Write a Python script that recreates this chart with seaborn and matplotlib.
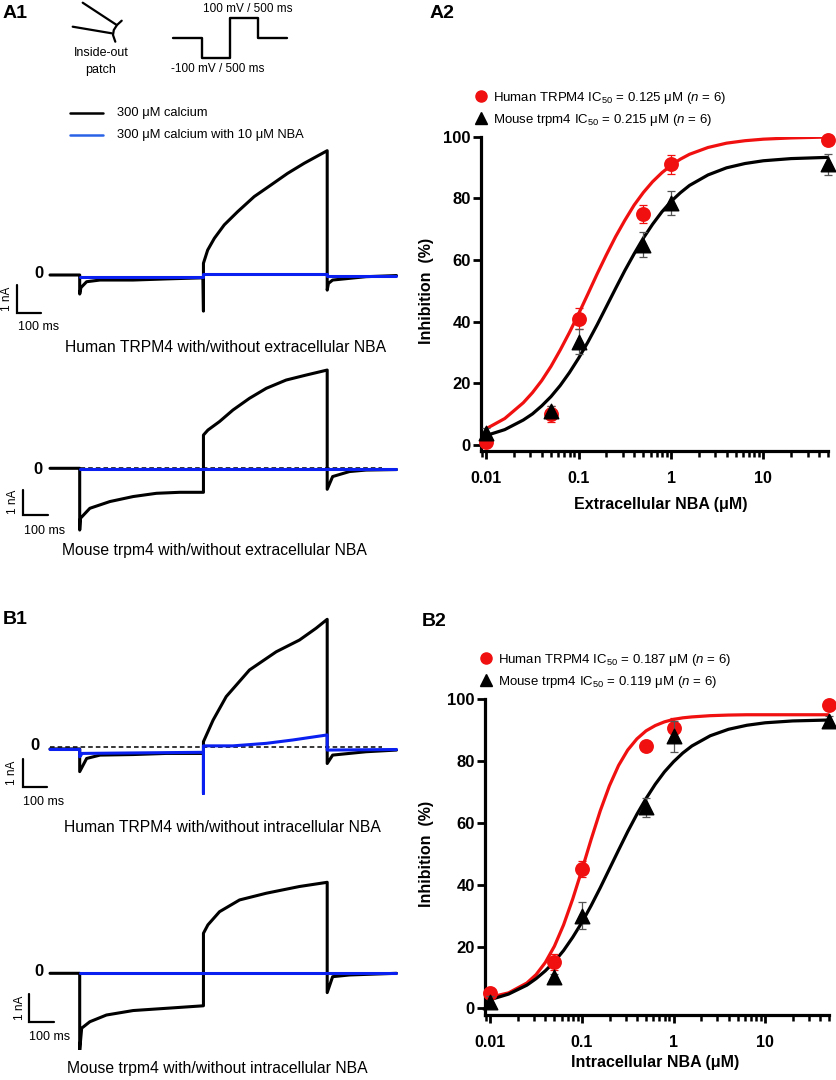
import numpy as np
import matplotlib
matplotlib.use("Agg")
import matplotlib.pyplot as plt
import seaborn as sns
from matplotlib.lines import Line2D
from matplotlib.ticker import LogLocator, NullFormatter

sns.set_style("white")
plt.rcParams['font.family'] = ['Liberation Sans', 'DejaVu Sans']
plt.rcParams['mathtext.fontset'] = 'custom'
plt.rcParams['mathtext.rm'] = 'Liberation Sans'
plt.rcParams['mathtext.it'] = 'Liberation Sans:italic'
plt.rcParams['mathtext.bf'] = 'Liberation Sans:bold'
for key in ['text.color', 'axes.labelcolor', 'xtick.color', 'ytick.color', 'axes.edgecolor']:
    plt.rcParams[key] = 'black'

RED = '#f01010'
BLUE = '#0a20f0'
GREY = '#555555'

# ---------------- dose-response data (mean +/- SEM) -------------
conc = [0.01, 0.05, 0.1, 0.5, 1, 50]

ext_human = [1, 10, 41, 75, 91, 99]
ext_human_err = [1, 2.5, 3.5, 3, 3, 1]
ext_mouse = [4, 11, 33.5, 65, 78.5, 91]
ext_mouse_err = [1.5, 1.5, 4, 4, 4, 3.5]

int_human = [5, 15, 45, 85, 90.6, 98]
int_human_err = [1, 2.7, 2.6, 1, 3.5, 1]
int_mouse = [2, 10, 30, 65, 88, 93]
int_mouse_err = [2, 1, 4.3, 3, 5, 1.5]

# fitted curves, sampled along the drawn lines (log10 of concentration)
fit_logx = [-2.0, -1.8, -1.6, -1.5, -1.4, -1.3, -1.2, -1.1, -1.0, -0.9, -0.8, -0.7,
            -0.6, -0.5, -0.4, -0.3, -0.2, -0.1, 0.0, 0.1, 0.2, 0.4, 0.6, 0.8, 1.0, 1.3, 1.7]
ext_human_fit = [5.3, 8.6, 13.7, 17.0, 20.9, 25.5, 30.8, 36.5, 42.6, 49.0, 55.5, 61.7, 67.6,
                 72.9, 77.8, 81.9, 85.4, 88.3, 90.7, 92.7, 94.3, 96.5, 97.9, 98.7, 99.2, 99.6, 99.9]
ext_mouse_fit = [3.1, 5.0, 8.1, 10.1, 12.7, 15.7, 19.3, 23.5, 28.2, 33.4, 39.0, 44.9, 50.8,
                 56.6, 62.0, 67.1, 71.6, 75.6, 79.0, 81.8, 84.2, 87.6, 89.9, 91.3, 92.2, 92.9, 93.3]
int_human_fit = [3.6, 5.0, 8.2, 10.9, 14.8, 20.1, 27.0, 35.4, 44.8, 54.6, 63.9, 72.0, 78.6,
                 83.6, 87.2, 89.8, 91.5, 92.7, 93.5, 94.0, 94.3, 94.7, 94.9, 95.0, 95.0, 95.0, 95.0]
int_mouse_fit = [2.8, 4.6, 7.5, 9.6, 12.1, 15.1, 18.7, 23.0, 27.8, 33.2, 39.0, 45.1, 51.2,
                 57.2, 62.8, 67.9, 72.5, 76.5, 79.8, 82.6, 84.9, 88.2, 90.3, 91.6, 92.4, 93.0, 93.3]

# ---------------- current traces (ms, nA) ----------------
# human TRPM4, extracellular NBA
a1h_t = [0, 120, 120, 125, 148, 202, 336, 470, 618, 620, 620, 637, 664, 704, 758, 825, 892, 960,
         1027, 1120, 1120, 1125, 1142, 1277, 1400]
a1h_i = [0, 0, -0.68, -0.45, -0.24, -0.18, -0.18, -0.14, -0.10, -1.29, 0.42, 0.89, 1.31, 1.79,
         2.26, 2.80, 3.21, 3.63, 3.99, 4.44, -0.54, -0.30, -0.18, -0.06, -0.02]
a1h_nba_t = [120, 620, 620, 1120, 1120, 1400]
a1h_nba_i = [-0.06, -0.06, 0.04, 0.04, -0.02, -0.02]

# mouse trpm4, extracellular NBA
a1m_t = [0, 120, 120, 123, 161, 242, 336, 430, 524, 620, 620, 638, 685, 739, 806, 874, 954, 1035,
         1120, 1120, 1142, 1210, 1277, 1400]
a1m_i = [0, 0, -2.47, -2.0, -1.6, -1.33, -1.13, -1.0, -0.96, -0.96, 1.33, 1.53, 1.87, 2.33, 2.8,
         3.2, 3.53, 3.73, 3.93, -0.84, -0.33, -0.13, -0.07, -0.05]
a1m_nba_t = [120, 1400]
a1m_nba_i = [-0.03, -0.03]

# human TRPM4, intracellular NBA
b1h_t = [0, 120, 120, 148, 202, 336, 470, 620, 620, 659, 712, 806, 914, 1008, 1075, 1120, 1120,
         1142, 1277, 1400]
b1h_i = [-0.08, -0.08, -0.89, -0.42, -0.3, -0.28, -0.24, -0.24, 0.18, 0.95, 1.79, 2.74, 3.39,
         3.81, 4.23, 4.55, -0.6, -0.3, -0.18, -0.12]
b1h_nba_t = [0, 120, 120, 130, 620, 620, 620, 739, 874, 981, 1120, 1120, 1400]
b1h_nba_i = [-0.1, -0.1, -0.36, -0.24, -0.2, -1.67, 0.03, 0.03, 0.12, 0.24, 0.42, -0.12, -0.1]

# mouse trpm4, intracellular NBA
b1m_t = [0, 120, 120, 128, 161, 228, 336, 470, 620, 620, 638, 685, 766, 874, 1008, 1120, 1120,
         1142, 1210, 1400]
b1m_i = [0, 0, -2.74, -1.96, -1.73, -1.49, -1.33, -1.25, -1.16, 1.43, 1.73, 2.2, 2.62, 2.86, 3.1,
         3.25, -0.69, -0.12, -0.06, 0]
b1m_nba_t = [120, 1400]
b1m_nba_i = [0, 0]

# voltage protocol
prot_t = [0, 500, 500, 1000, 1000, 1500, 1500, 2000]
prot_v = [0, 0, -100, -100, 100, 100, 0, 0]

W, H = 837, 1080
fig = plt.figure(figsize=(W / 100, H / 100), dpi=100)


def px_axes(left, top, right, bottom):
    return fig.add_axes([left / W, 1 - bottom / H, (right - left) / W, (bottom - top) / H])


ov = px_axes(0, 0, W, H)
ov.set_xlim(0, W)
ov.set_ylim(H, 0)
ov.axis('off')

# ---------------- traces ----------------
MS_PX = 0.2475  # px per ms


def trace_panel(top, bottom, y0, s, traces, bar, dashed=False):
    ax = px_axes(0, top, 420, bottom)
    ax.set_xlim(-50 / MS_PX, 370 / MS_PX)
    ax.set_ylim((y0 - bottom) / s, (y0 - top) / s)
    ax.axis('off')
    if dashed:
        ax.plot([0, 1343], [0, 0], color='black', lw=1.1, ls=(0, (3, 2)), zorder=1)
    for t, i, c in traces:
        sns.lineplot(x=t, y=i, ax=ax, color=c, lw=2.2, sort=False, estimator=None, zorder=3)
    bx, by = bar
    ax.plot([bx, bx, bx + 100], [by + 1, by, by], color='black', lw=1.6, solid_joinstyle='miter')
    return ax


trace_panel(140, 335, 275, 28, [(a1h_t, a1h_i, 'black'), (a1h_nba_t, a1h_nba_i, BLUE)],
            (-134.5, -1.37))
trace_panel(360, 540, 468.3, 25, [(a1m_t, a1m_i, 'black'), (a1m_nba_t, a1m_nba_i, BLUE)],
            (-107.9, -1.87), dashed=True)
trace_panel(605, 810, 746.7, 28, [(b1h_t, b1h_i, 'black'), (b1h_nba_t, b1h_nba_i, BLUE)],
            (-110.3, -1.45), dashed=True)
trace_panel(870, 1050, 973.3, 28, [(b1m_t, b1m_i, 'black'), (b1m_nba_t, b1m_nba_i, BLUE)],
            (-83.6, -1.73))

# labels around traces
for (x, y) in [(39, 274), (38, 469), (35, 746), (39, 972)]:
    ov.text(x, y, '0', fontsize=12, fontweight='bold', ha='center', va='center')
for (x, y) in [(7.5, 299), (13.5, 502), (12, 773), (20, 1008)]:
    ov.text(x, y, '1 nA', fontsize=8.5, rotation=90, ha='center', va='center')
for (x, y) in [(39, 327), (45, 531), (44, 802), (50, 1037)]:
    ov.text(x, y, '100 ms', fontsize=9, ha='center', va='center')

captions = [(226, 347, 'Human TRPM4 with/without extracellular NBA'),
            (214.5, 550, 'Mouse trpm4 with/without extracellular NBA'),
            (222.7, 827, 'Human TRPM4 with/without intracellular NBA'),
            (217.5, 1068, 'Mouse trpm4 with/without intracellular NBA')]
for x, y, s in captions:
    ov.text(x, y, s, fontsize=11.3, ha='center', va='center')

# panel letters
for x, y, s in [(3, 13, 'A1'), (430, 13, 'A2'), (3, 620, 'B1'), (422, 621, 'B2')]:
    ov.text(x, y, s, fontsize=14, fontweight='bold', ha='left', va='center')

# A1 legend
ov.plot([70, 103], [113, 113], color='black', lw=1.8)
ov.plot([70, 103], [135, 135], color='#2a62e6', lw=1.8)
ov.text(117, 113, '300 μM calcium', fontsize=9.3, va='center')
ov.text(117, 135, '300 μM calcium with 10 μM NBA', fontsize=9.3, va='center')

# inside-out patch sketch
ov.plot([82.7, 116.7], [2.7, 25], color='black', lw=1.6)
ov.plot([72.7, 111.7], [26.7, 33.3], color='black', lw=1.6)
ov.plot([121.7, 117, 113.8, 113, 115.3], [20.7, 25, 30, 35, 41.7], color='black', lw=1.6)
ov.text(101, 53, 'Inside-out', fontsize=9, ha='center', va='center')
ov.text(101, 70, 'patch', fontsize=9, ha='center', va='center')

# voltage protocol
pax = px_axes(173.3, 18.3, 286.7, 58.3)
sns.lineplot(x=prot_t, y=prot_v, ax=pax, color='black', lw=1.7, sort=False, estimator=None)
pax.set_xlim(0, 2000)
pax.set_ylim(-100, 100)
pax.axis('off')
for ln in pax.lines:
    ln.set_clip_on(False)
ov.text(248, 8.5, '100 mV / 500 ms', fontsize=8.5, ha='center', va='center')
ov.text(218, 69.5, '-100 mV / 500 ms', fontsize=8.5, ha='center', va='center')


# ---------------- dose-response panels ----------------
def dose_panel(box, ylo, human, herr, mouse, merr, hfit, mfit, xlabel, ylab_xy, xlab_xy,
               labels, leg_xy):
    ax = px_axes(*box)
    xf = 10 ** np.array(fit_logx)
    sns.lineplot(x=xf, y=hfit, ax=ax, color=RED, lw=2.3, sort=False, estimator=None, zorder=2)
    sns.lineplot(x=xf, y=mfit, ax=ax, color='black', lw=2.3, sort=False, estimator=None, zorder=2)
    ax.errorbar(conc, human, yerr=herr, fmt='none', ecolor=RED, elinewidth=0.9, capsize=3,
                capthick=0.9, zorder=3, clip_on=False)
    sns.scatterplot(x=conc, y=human, ax=ax, marker='o', s=115, color=RED, edgecolor=RED,
                    linewidth=0, zorder=4, clip_on=False, legend=False)
    ax.errorbar(conc, mouse, yerr=merr, fmt='none', ecolor=GREY, elinewidth=0.9, capsize=3,
                capthick=0.9, zorder=5, clip_on=False)
    sns.scatterplot(x=conc, y=mouse, ax=ax, marker='^', s=110, color='black', edgecolor='black',
                    linewidth=1.0, zorder=6, clip_on=False, legend=False)
    ax.set_xscale('log')
    ax.set_xlim(0.00883, 50)
    ax.set_ylim(ylo, 100)
    ax.set_xticks([0.01, 0.1, 1, 10])
    ax.set_xticklabels(['0.01', '0.1', '1', '10'])
    ax.xaxis.set_minor_locator(LogLocator(base=10, subs=np.arange(2, 10)))
    ax.xaxis.set_minor_formatter(NullFormatter())
    ax.set_yticks([0, 20, 40, 60, 80, 100])
    for sp in ['top', 'right']:
        ax.spines[sp].set_visible(False)
    for sp in ['left', 'bottom']:
        ax.spines[sp].set_linewidth(2.3)
        ax.spines[sp].set_color('black')
    ax.tick_params(axis='x', which='major', direction='out', length=6, width=2, pad=8,
                   labelsize=11.5, bottom=True, colors='black')
    ax.tick_params(axis='x', which='minor', direction='out', length=4, width=1.8, bottom=True,
                   colors='black')
    ax.tick_params(axis='y', which='major', direction='out', length=5.5, width=2, pad=2,
                   labelsize=12, left=True, colors='black')
    for lab in ax.get_xticklabels() + ax.get_yticklabels():
        lab.set_fontweight('bold')
    ax.set_xlabel('')
    ax.set_ylabel('')
    ov.text(ylab_xy[0], ylab_xy[1], 'Inhibition  (%)', rotation=90, fontsize=11.5,
            fontweight='bold', ha='center', va='center')
    ov.text(xlab_xy[0], xlab_xy[1], xlabel, fontsize=11.5, fontweight='bold',
            ha='center', va='center')
    handles = [Line2D([0], [0], marker='o', ls='none', color=RED, ms=8),
               Line2D([0], [0], marker='^', ls='none', color='black', ms=8)]
    ax.legend(handles, labels, loc='upper left', bbox_to_anchor=(leg_xy[0] / W, 1 - leg_xy[1] / H),
              bbox_transform=fig.transFigure, frameon=False, fontsize=9.5, handlelength=0.8,
              handletextpad=0.5, labelspacing=0.45, borderpad=0, borderaxespad=0,
              labelcolor='black')
    return ax


dose_panel((481.3, 136.7, 828, 451.2), -2, ext_human, ext_human_err, ext_mouse, ext_mouse_err,
           ext_human_fit, ext_mouse_fit, 'Extracellular NBA (μM)', (427, 291), (661, 504),
           ['Human TRPM4 IC$_{50}$ = 0.125 μM ($\\mathit{n}$ = 6)',
            'Mouse trpm4 IC$_{50}$ = 0.215 μM ($\\mathit{n}$ = 6)'], (476, 90))
dose_panel((485.3, 699.3, 829.3, 1015.1), -2.2, int_human, int_human_err, int_mouse,
           int_mouse_err, int_human_fit, int_mouse_fit, 'Intracellular NBA (μM)', (427, 854),
           (655, 1063), ['Human TRPM4 IC$_{50}$ = 0.187 μM ($\\mathit{n}$ = 6)',
                         'Mouse trpm4 IC$_{50}$ = 0.119 μM ($\\mathit{n}$ = 6)'], (481, 652))

fig.savefig('out.png', dpi=100)
